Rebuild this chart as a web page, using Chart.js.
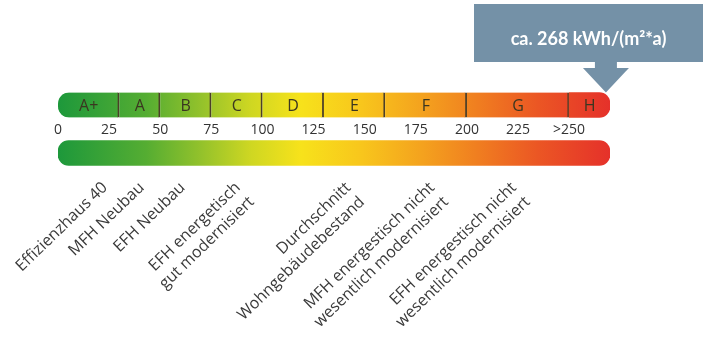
<!DOCTYPE html>
<html lang="de">
<head>
<meta charset="utf-8">
<title>Energieeffizienzklassen</title>
<script src="https://cdn.jsdelivr.net/npm/chart.js@4/dist/chart.umd.min.js"></script>
<style>
  html, body { margin: 0; padding: 0; background: #ffffff; }
  #wrap { position: relative; width: 710px; height: 338px; }
</style>
</head>
<body>
<div id="wrap"><canvas id="chart" width="710" height="338"></canvas></div>
<script>
// Energy efficiency classes, final energy demand in kWh/(m²·a)
const classNames = ['A+', 'A', 'B', 'C', 'D', 'E', 'F', 'G', 'H'];
const classStart = [0, 30, 50, 75, 100, 130, 160, 200, 250];
const classEnd   = [30, 50, 75, 100, 130, 160, 200, 250, 270];
const scaleMax = 270;

// Scale ticks between the two bars
const tickValues = [0, 25, 50, 75, 100, 125, 150, 175, 200, 225, 250];
const tickLabels = ['0', '25', '50', '75', '100', '125', '150', '175', '200', '225', '>250'];

// Reference buildings shown below the scale
const compareLabels = [
  ['Effizienzhaus 40'],
  ['MFH Neubau'],
  ['EFH Neubau'],
  ['EFH energetisch', 'gut modernisiert'],
  ['Durchschnitt', 'Wohngebäudebestand'],
  ['MFH energestisch nicht', 'wesentlich modernisiert'],
  ['EFH energestisch nicht', 'wesentlich modernisiert']
];
const compareValues = [23, 41, 61, 88, 142, 183, 223];

// Value of the building itself
const currentValue = 268;

Chart.defaults.font.family = "'Open Sans', 'DejaVu Sans', sans-serif";

// Green → yellow → red colour ramp spanning the whole scale
const rampStops = [
  [0.00, '#1d983b'],
  [0.16, '#55ad32'],
  [0.26, '#94c22b'],
  [0.35, '#cfd722'],
  [0.44, '#f7e21b'],
  [0.55, '#f8c61c'],
  [0.66, '#f4a21e'],
  [0.76, '#f07e20'],
  [0.87, '#eb5624'],
  [1.00, '#e5312a']
];

function scaleGradient(context) {
  const chart = context.chart;
  if (!chart.chartArea) return '#f7e21b';
  const x = chart.scales.x;
  const g = chart.ctx.createLinearGradient(x.getPixelForValue(0), 0, x.getPixelForValue(scaleMax), 0);
  rampStops.forEach(([o, c]) => g.addColorStop(o, c));
  return g;
}

const lastClass = classNames.length - 1;
const R = 11;

// Class letters centred in each segment
const classLetters = {
  id: 'classLetters',
  afterDatasetsDraw(chart) {
    const ctx = chart.ctx;
    const meta = chart.getDatasetMeta(0);
    ctx.save();
    ctx.font = "16px 'Open Sans', sans-serif";
    ctx.fillStyle = '#3b3620';
    ctx.textAlign = 'center';
    ctx.textBaseline = 'middle';
    meta.data.forEach((bar, i) => {
      const p = bar.getCenterPoint();
      ctx.fillText(classNames[i], p.x, p.y + 1);
    });
    ctx.restore();
  }
};

// Callout box with an arrow pointing at the building's value
const callout = {
  id: 'callout',
  afterDraw(chart) {
    const ctx = chart.ctx;
    const x = chart.scales.x.getPixelForValue(currentValue);
    const bar = chart.getDatasetMeta(0).data[lastClass];
    const tipY = bar.y - bar.height / 2;
    const boxW = 229, boxH = 58, boxTop = 4;
    const boxLeft = Math.min(x - boxW / 2, chart.width - 7 - boxW);
    const boxBottom = boxTop + boxH;
    ctx.save();
    ctx.fillStyle = '#7491a7';
    ctx.fillRect(boxLeft, boxTop, boxW, boxH);
    // stem and arrow head
    ctx.fillRect(x - 11, boxBottom, 22, 7);
    ctx.beginPath();
    ctx.moveTo(x - 23, boxBottom + 6);
    ctx.lineTo(x + 23, boxBottom + 6);
    ctx.lineTo(x, tipY);
    ctx.closePath();
    ctx.fill();
    ctx.fillStyle = '#ffffff';
    ctx.font = "bold 18px Lato, 'Open Sans', sans-serif";
    ctx.textAlign = 'center';
    ctx.textBaseline = 'middle';
    ctx.fillText('ca. ' + currentValue + ' kWh/(m²*a)', boxLeft + boxW / 2, boxTop + boxH / 2 + 6);
    ctx.restore();
  }
};

new Chart(document.getElementById('chart'), {
  type: 'bar',
  data: {
    labels: ['Klasse', 'Skala'],
    datasets: [
      {
        label: 'Effizienzklasse',
        data: classNames.map((n, i) => ({ x: [classStart[i], classEnd[i]], y: 'Klasse' })),
        backgroundColor: scaleGradient,
        borderColor: '#4b3f28',
        borderWidth: c => ({ top: 0, bottom: 0, left: 0, right: c.dataIndex < lastClass ? 2 : 0 }),
        borderSkipped: false,
        borderRadius: c => {
          if (c.dataIndex === 0) return { topLeft: R, bottomLeft: R, topRight: 0, bottomRight: 0 };
          if (c.dataIndex === lastClass) return { topLeft: 0, bottomLeft: 0, topRight: R, bottomRight: R };
          return 0;
        },
        grouped: false,
        barThickness: 25
      },
      {
        label: 'Skala',
        data: [{ x: [0, scaleMax], y: 'Skala' }],
        backgroundColor: scaleGradient,
        borderWidth: 0,
        borderSkipped: false,
        borderRadius: R,
        grouped: false,
        barThickness: 25
      }
    ]
  },
  options: {
    indexAxis: 'y',
    responsive: false,
    animation: false,
    layout: { padding: { top: 81, left: 58, right: 100, bottom: 0 } },
    plugins: { legend: { display: false }, tooltip: { enabled: false } },
    scales: {
      y: { type: 'category', display: false, offset: true },
      x: {
        type: 'linear', min: 0, max: scaleMax, bounds: 'data',
        position: { y: 0.5 },
        grid: { display: false, drawTicks: false },
        border: { display: false },
        afterBuildTicks: s => { s.ticks = tickValues.map(v => ({ value: v })); },
        ticks: {
          autoSkip: false, maxRotation: 0, padding: -7,
          color: '#333333', font: { size: 14 },
          callback: (v, i) => tickLabels[i]
        }
      },
      x2: {
        type: 'linear', axis: 'x', position: 'bottom', min: 0, max: scaleMax, bounds: 'data',
        grid: { display: false, drawTicks: false },
        border: { display: false },
        afterBuildTicks: s => { s.ticks = compareValues.map(v => ({ value: v })); },
        afterFit: s => { s.height = 161; },
        ticks: {
          autoSkip: false, minRotation: 44, maxRotation: 44, padding: 1,
          color: '#3a3a3a', font: { size: 16, lineHeight: 1.25 },
          callback: (v, i) => compareLabels[i]
        }
      }
    }
  },
  plugins: [classLetters, callout]
});
</script>
</body>
</html>
